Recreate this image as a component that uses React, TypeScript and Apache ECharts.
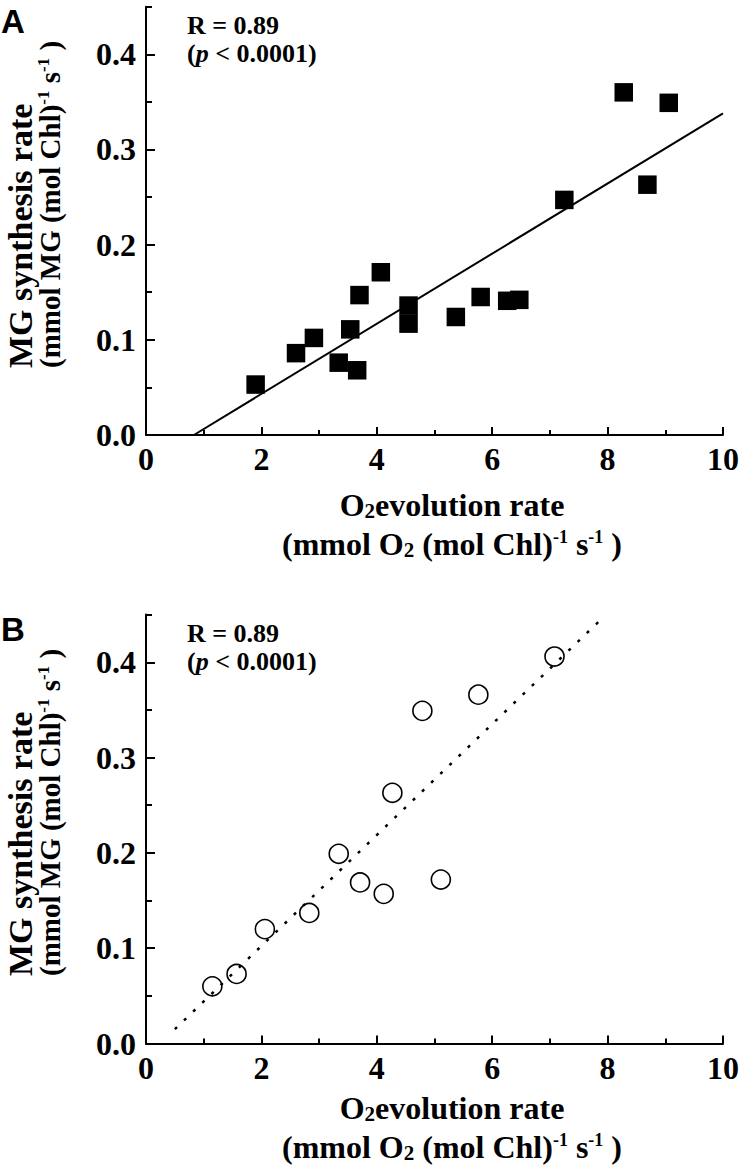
import React, { useEffect, useRef } from "react";
import * as echarts from "echarts";

// ---- Data ----
const xMajorTicks = [0, 2, 4, 6, 8, 10];
const xMinorTicks = [1, 3, 5, 7, 9];
const yMajorTicks = [0, 0.1, 0.2, 0.3, 0.4];
const yMinorTicks = [0.05, 0.15, 0.25, 0.35, 0.45];

// Panel A (filled squares)
const o2RateA = [1.9, 2.6, 2.91, 3.34, 3.54, 3.66, 3.7, 4.07, 4.55, 4.55, 5.37, 5.8, 6.26, 6.47, 7.25, 8.28, 8.69, 9.06];
const mgRateA = [0.053, 0.086, 0.102, 0.076, 0.111, 0.068, 0.147, 0.171, 0.136, 0.117, 0.124, 0.145, 0.141, 0.142, 0.247, 0.36, 0.263, 0.349];
const fitAx = [0.83, 10];
const fitAy = [0, 0.338];

// Panel B (open circles)
const o2RateB = [1.15, 1.57, 2.06, 2.83, 3.34, 3.71, 4.12, 4.27, 4.79, 5.11, 5.76, 7.08];
const mgRateB = [0.06, 0.073, 0.12, 0.137, 0.199, 0.169, 0.157, 0.263, 0.349, 0.172, 0.366, 0.406];
const fitBx = [0.5, 7.87];
const fitBy = [0.015, 0.444];

const statLines = ["R = 0.89", "p < 0.0001"];

const SERIF = "'Liberation Serif', 'Times New Roman', serif";
const SANS = "'Liberation Sans', Arial, sans-serif";

const pairs = (xs: number[], ys: number[]) => xs.map((x, i) => [x, ys[i]]);

function xAxesFor(gridIndex: number) {
  return [
    {
      type: "value",
      gridIndex,
      position: "bottom",
      min: 0,
      max: 10,
      interval: 2,
      axisLine: { show: true, onZero: false, lineStyle: { color: "#000", width: 2 } },
      axisTick: { show: true, inside: true, length: 8, lineStyle: { color: "#000", width: 2 }, customValues: xMajorTicks },
      axisLabel: {
        show: true,
        customValues: xMajorTicks,
        margin: 8,
        color: "#000",
        fontFamily: SERIF,
        fontWeight: "bold",
        fontSize: 32,
      },
      splitLine: { show: false },
    },
    {
      type: "value",
      gridIndex,
      position: "bottom",
      min: 0,
      max: 10,
      interval: 1,
      axisLine: { show: false, onZero: false },
      axisTick: { show: true, inside: true, length: 5, lineStyle: { color: "#000", width: 2 }, customValues: xMinorTicks },
      axisLabel: { show: false },
      splitLine: { show: false },
    },
  ];
}

function yAxesFor(gridIndex: number) {
  return [
    {
      type: "value",
      gridIndex,
      position: "left",
      min: 0,
      max: 0.45,
      interval: 0.05,
      axisLine: { show: true, onZero: false, lineStyle: { color: "#000", width: 2 } },
      axisTick: { show: true, inside: true, length: 9, lineStyle: { color: "#000", width: 2 }, customValues: yMajorTicks },
      axisLabel: {
        show: true,
        customValues: yMajorTicks,
        formatter: (v: number) => v.toFixed(1),
        margin: 10,
        color: "#000",
        fontFamily: SERIF,
        fontWeight: "bold",
        fontSize: 32,
      },
      splitLine: { show: false },
    },
    {
      type: "value",
      gridIndex,
      position: "left",
      min: 0,
      max: 0.45,
      interval: 0.05,
      axisLine: { show: false, onZero: false },
      axisTick: { show: true, inside: true, length: 6, lineStyle: { color: "#000", width: 2 }, customValues: yMinorTicks },
      axisLabel: { show: false },
      splitLine: { show: false },
    },
  ];
}

const bold = { fontFamily: SERIF, fontWeight: "bold", fill: "#000" };
const richBase = {
  n: { ...bold, fontSize: 32, lineHeight: 32 },
  y1: { ...bold, fontSize: 34, lineHeight: 30 },
  y2: { ...bold, fontSize: 29, lineHeight: 30 },
  sup: { ...bold, fontSize: 18, verticalAlign: "top", lineHeight: 18 },
  ysup: { ...bold, fontSize: 17, verticalAlign: "top", lineHeight: 17 },
  sub: { ...bold, fontSize: 21, verticalAlign: "bottom", lineHeight: 14 },
  i: { ...bold, fontStyle: "italic", fontSize: 26 },
  s: { ...bold, fontSize: 26 },
};

function panelGraphics(letter: string, dy: number, xTitleDy: number) {
  return [
    {
      type: "text",
      left: 1,
      top: 5 + dy,
      style: { text: letter, fontFamily: SANS, fontWeight: "bold", fontSize: 33, fill: "#000" },
    },
    {
      type: "text",
      x: 187,
      y: 25 + dy,
      style: { text: `{s|${statLines[0]}}`, rich: richBase, align: "left", verticalAlign: "middle" },
    },
    {
      type: "text",
      x: 187,
      y: 53 + dy,
      style: {
        text: `{s|(}{i|${statLines[1].slice(0, 1)}}{s|${statLines[1].slice(1)})}`,
        rich: richBase,
        align: "left",
        verticalAlign: "middle",
      },
    },
    {
      type: "text",
      x: 452,
      y: 505 + xTitleDy,
      style: { text: "{n|O}{sub|2}{n|evolution rate}", rich: richBase, align: "center", verticalAlign: "middle" },
    },
    {
      type: "text",
      x: 452,
      y: 544 + xTitleDy,
      style: {
        text: "{n|(mmol O}{sub|2}{n| (mol Chl)}{sup|-1}{n| s}{sup|-1}{n| )}",
        rich: richBase,
        align: "center",
        verticalAlign: "middle",
      },
    },
    {
      type: "text",
      x: 35,
      y: 368 + dy,
      rotation: Math.PI / 2,
      style: {
        text: "{y1|MG synthesis rate}\n{y2|(mmol MG (mol Chl)}{ysup|-1}{y2| s}{ysup|-1}{y2| )}",
        rich: richBase,
        align: "left",
        verticalAlign: "middle",
      },
    },
  ];
}

const option = {
  animation: false,
  backgroundColor: "#fff",
  grid: [
    { left: 146, top: 6.7, width: 579, height: 428.3, containLabel: false },
    { left: 146, top: 614.6, width: 579, height: 428.9, containLabel: false },
  ],
  xAxis: [...xAxesFor(0), ...xAxesFor(1)],
  yAxis: [...yAxesFor(0), ...yAxesFor(1)],
  series: [
    {
      type: "line",
      xAxisIndex: 0,
      yAxisIndex: 0,
      data: pairs(fitAx, fitAy),
      showSymbol: false,
      symbol: "none",
      lineStyle: { color: "#000", width: 2 },
      silent: true,
      z: 2,
    },
    {
      type: "scatter",
      xAxisIndex: 0,
      yAxisIndex: 0,
      data: pairs(o2RateA, mgRateA),
      symbol: "rect",
      symbolSize: 18.5,
      itemStyle: { color: "#000", opacity: 1 },
      silent: true,
      z: 3,
    },
    {
      type: "line",
      xAxisIndex: 2,
      yAxisIndex: 2,
      data: pairs(fitBx, fitBy),
      showSymbol: false,
      symbol: "none",
      lineStyle: { color: "#000", width: 2.5, type: [3, 9.7] },
      silent: true,
      z: 2,
    },
    {
      type: "scatter",
      xAxisIndex: 2,
      yAxisIndex: 2,
      data: pairs(o2RateB, mgRateB),
      symbol: "circle",
      symbolSize: 19,
      itemStyle: { color: "rgba(0,0,0,0)", borderColor: "#000", borderWidth: 1.6, opacity: 1 },
      silent: true,
      z: 3,
    },
  ],
  graphic: [...panelGraphics("A", 0, 0), ...panelGraphics("B", 608, 603)],
};

export default function App() {
  const ref = useRef<HTMLDivElement>(null);
  useEffect(() => {
    document.body.style.margin = "0";
    const chart = echarts.init(ref.current!, null, { renderer: "svg" });
    chart.setOption(option as any);
    return () => chart.dispose();
  }, []);
  return <div ref={ref} style={{ width: 742, height: 1168, position: "absolute", left: 0, top: 0 }} />;
}
